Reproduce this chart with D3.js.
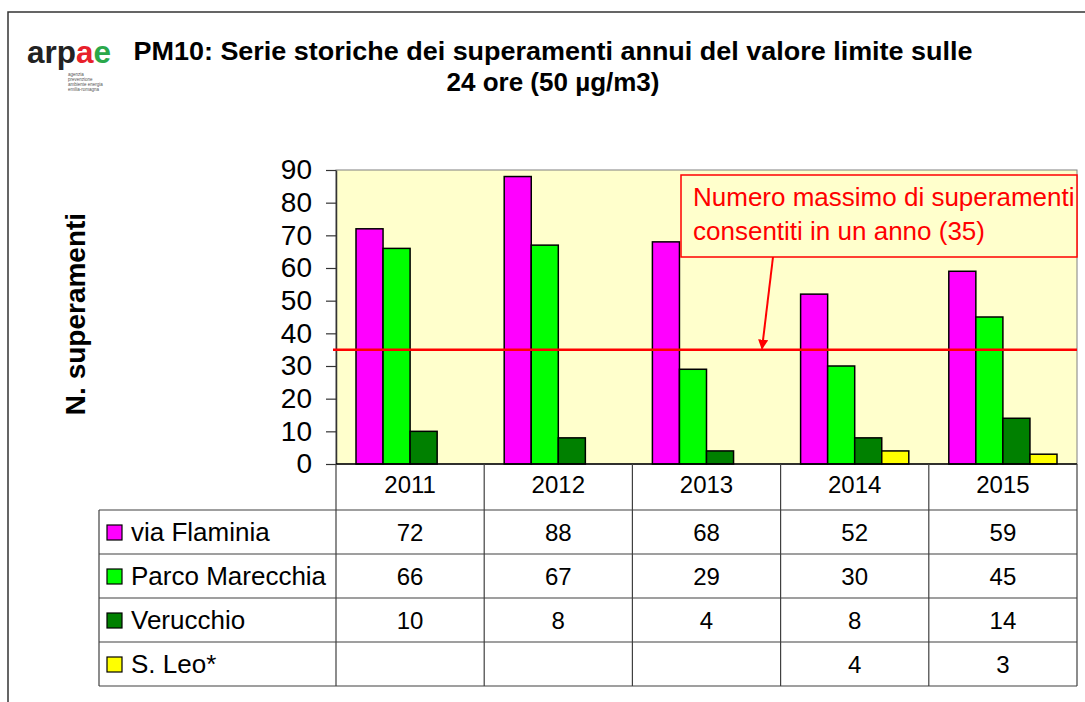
<!DOCTYPE html>
<html>
<head>
<meta charset="utf-8">
<script src="https://cdn.jsdelivr.net/npm/d3@7"></script>
<style>
  body { margin: 0; background: #fff; }
  svg { display: block; font-family: 'Liberation Sans', Arial, sans-serif; }
</style>
</head>
<body>
<div id="chart"></div>
<script>
// dati
const years = ['2011', '2012', '2013', '2014', '2015']
const stations = ['via Flaminia', 'Parco Marecchia', 'Verucchio', 'S. Leo*']
const viaFlaminia = [72, 88, 68, 52, 59]
const parcoMarecchia = [66, 67, 29, 30, 45]
const verucchio = [10, 8, 4, 8, 14]
const sanLeo = [null, null, null, 4, 3]
const stationColors = ['#ff00ff', '#00ff00', '#008000', '#ffff00']
const yTicks = [0, 10, 20, 30, 40, 50, 60, 70, 80, 90]
const limitValue = 35

const values = [viaFlaminia, parcoMarecchia, verucchio, sanLeo]

const W = 1085
const H = 702
// area del grafico
const plot = { left: 336, right: 1077, top: 170, bottom: 464 }
// tabella dati
const table = { left: 99, headerBottom: 510, bottom: 686 }

const svg = d3.select('#chart').append('svg')
  .attr('width', W)
  .attr('height', H)

// cornice esterna
svg.append('path')
  .attr('d', `M8,${H} V12 H${W}`)
  .attr('fill', 'none')
  .attr('stroke', '#333')
  .attr('stroke-width', 1.5)

// logo
const logo = svg.append('g').attr('transform', 'translate(27,63)')
const logoText = logo.append('text')
  .attr('font-size', 32)
  .attr('font-weight', 'bold')
  .attr('textLength', 84)
  .attr('lengthAdjust', 'spacingAndGlyphs')
logoText.append('tspan').attr('fill', '#222').text('arp')
logoText.append('tspan').attr('fill', '#e8202a').text('a')
logoText.append('tspan').attr('fill', '#2aa84a').text('e')
const logoSmall = ['agenzia', 'prevenzione', 'ambiente energia', 'emilia-romagna']
logo.selectAll('text.small')
  .data(logoSmall)
  .join('text')
  .attr('class', 'small')
  .attr('x', 41)
  .attr('y', (d, i) => 13 + i * 5)
  .attr('font-size', 4.5)
  .attr('fill', '#555')
  .text(d => d)

// titolo
const title = svg.append('text')
  .attr('text-anchor', 'middle')
  .attr('font-weight', 'bold')
  .attr('font-size', 26)
  .attr('fill', '#000')
title.append('tspan').attr('x', 553).attr('y', 60)
  .attr('textLength', 839).attr('lengthAdjust', 'spacingAndGlyphs')
  .text('PM10: Serie storiche dei superamenti annui del valore limite sulle')
title.append('tspan').attr('x', 553).attr('y', 91)
  .text('24 ore (50 µg/m3)')

// scale
const x0 = d3.scaleBand().domain(years).range([plot.left, plot.right])
const x1 = d3.scaleBand().domain(stations).range([20, x0.bandwidth() - 20])
const y = d3.scaleLinear().domain([0, 90]).range([plot.bottom, plot.top])

// sfondo area grafico
svg.append('rect')
  .attr('x', plot.left)
  .attr('y', plot.top)
  .attr('width', plot.right - plot.left)
  .attr('height', plot.bottom - plot.top)
  .attr('fill', '#ffffcc')
  .attr('stroke', '#808080')
  .attr('stroke-width', 1)

// barre
const groups = svg.append('g').selectAll('g')
  .data(years)
  .join('g')
  .attr('transform', d => `translate(${x0(d)},0)`)

groups.selectAll('rect')
  .data((d, i) => stations.map((s, j) => ({ station: s, value: values[j][i], color: stationColors[j] })))
  .join('rect')
  .filter(d => d.value != null)
  .attr('x', d => x1(d.station))
  .attr('y', d => y(d.value))
  .attr('width', x1.bandwidth())
  .attr('height', d => y(0) - y(d.value))
  .attr('fill', d => d.color)
  .attr('stroke', '#000')
  .attr('stroke-width', 1.5)

// asse y
const yAxis = svg.append('g')
  .attr('transform', `translate(${plot.left},0)`)
  .call(d3.axisLeft(y).tickValues(yTicks).tickSize(10).tickPadding(14).tickSizeOuter(0))
yAxis.select('.domain').attr('stroke', '#333').attr('stroke-width', 1.5)
yAxis.selectAll('.tick line').attr('stroke', '#333').attr('stroke-width', 1.2)
yAxis.selectAll('.tick text')
  .attr('font-size', 28)
  .attr('font-family', 'Liberation Sans, Arial, sans-serif')
  .attr('fill', '#000')

svg.append('text')
  .attr('transform', 'translate(85,314) rotate(-90)')
  .attr('text-anchor', 'middle')
  .attr('font-weight', 'bold')
  .attr('font-size', 28)
  .text('N. superamenti')

// linea del limite
svg.append('line')
  .attr('x1', 333)
  .attr('x2', plot.right)
  .attr('y1', y(limitValue))
  .attr('y2', y(limitValue))
  .attr('stroke', '#ff0000')
  .attr('stroke-width', 2.5)

// riquadro annotazione
svg.append('defs').append('marker')
  .attr('id', 'arrowRed')
  .attr('viewBox', '0 0 10 10')
  .attr('refX', 9)
  .attr('refY', 5)
  .attr('markerWidth', 5)
  .attr('markerHeight', 5)
  .attr('orient', 'auto')
  .append('path')
  .attr('d', 'M0,0 L10,5 L0,10 z')
  .attr('fill', '#ff0000')

svg.append('rect')
  .attr('x', 681)
  .attr('y', 175)
  .attr('width', plot.right - 681)
  .attr('height', 82)
  .attr('fill', '#ffffcc')
  .attr('stroke', '#ff0000')
  .attr('stroke-width', 1.5)

const note = svg.append('text')
  .attr('font-size', 26)
  .attr('fill', '#ff0000')
note.append('tspan').attr('x', 693).attr('y', 206).text('Numero massimo di superamenti')
note.append('tspan').attr('x', 693).attr('y', 240).text('consentiti in un anno (35)')

svg.append('line')
  .attr('x1', 773)
  .attr('y1', 257)
  .attr('x2', 762)
  .attr('y2', y(limitValue) - 1)
  .attr('stroke', '#ff0000')
  .attr('stroke-width', 2)
  .attr('marker-end', 'url(#arrowRed)')

// asse x (base)
svg.append('line')
  .attr('x1', plot.left)
  .attr('x2', plot.right)
  .attr('y1', plot.bottom)
  .attr('y2', plot.bottom)
  .attr('stroke', '#000')
  .attr('stroke-width', 1.5)

// tabella dati
const rowH = (table.bottom - table.headerBottom) / stations.length
const gTable = svg.append('g')
const lineColor = '#404040'

// linee verticali delle colonne anno
const colEdges = years.map(d => x0(d)).concat([plot.right])
gTable.selectAll('line.col')
  .data(colEdges)
  .join('line')
  .attr('class', 'col')
  .attr('x1', d => d).attr('x2', d => d)
  .attr('y1', plot.bottom).attr('y2', table.bottom)
  .attr('stroke', lineColor)
  .attr('stroke-width', 1.2)

// linee orizzontali delle righe
const rowEdges = d3.range(stations.length + 1).map(i => table.headerBottom + i * rowH)
gTable.selectAll('line.row')
  .data(rowEdges)
  .join('line')
  .attr('class', 'row')
  .attr('x1', table.left).attr('x2', plot.right)
  .attr('y1', d => d).attr('y2', d => d)
  .attr('stroke', lineColor)
  .attr('stroke-width', 1.2)

gTable.append('line')
  .attr('x1', table.left).attr('x2', table.left)
  .attr('y1', table.headerBottom).attr('y2', table.bottom)
  .attr('stroke', lineColor)
  .attr('stroke-width', 1.2)

// intestazione anni
gTable.selectAll('text.year')
  .data(years)
  .join('text')
  .attr('class', 'year')
  .attr('x', d => x0(d) + x0.bandwidth() / 2)
  .attr('y', 493)
  .attr('text-anchor', 'middle')
  .attr('font-size', 24)
  .text(d => d)

// righe della legenda
const rows = gTable.selectAll('g.rowItem')
  .data(stations)
  .join('g')
  .attr('class', 'rowItem')
  .attr('transform', (d, i) => `translate(0,${table.headerBottom + i * rowH})`)

rows.append('rect')
  .attr('x', 107)
  .attr('y', rowH / 2 - 7)
  .attr('width', 15)
  .attr('height', 15)
  .attr('fill', (d, i) => stationColors[i])
  .attr('stroke', '#000')
  .attr('stroke-width', 1.2)

rows.append('text')
  .attr('x', 131)
  .attr('y', rowH / 2 + 9)
  .attr('font-size', 26)
  .text(d => d)

rows.selectAll('text.val')
  .data((d, i) => values[i].map((v, k) => ({ year: years[k], value: v })))
  .join('text')
  .attr('class', 'val')
  .attr('x', d => x0(d.year) + x0.bandwidth() / 2)
  .attr('y', rowH / 2 + 9)
  .attr('text-anchor', 'middle')
  .attr('font-size', 24)
  .text(d => d.value == null ? '' : d.value)
</script>
</body>
</html>
